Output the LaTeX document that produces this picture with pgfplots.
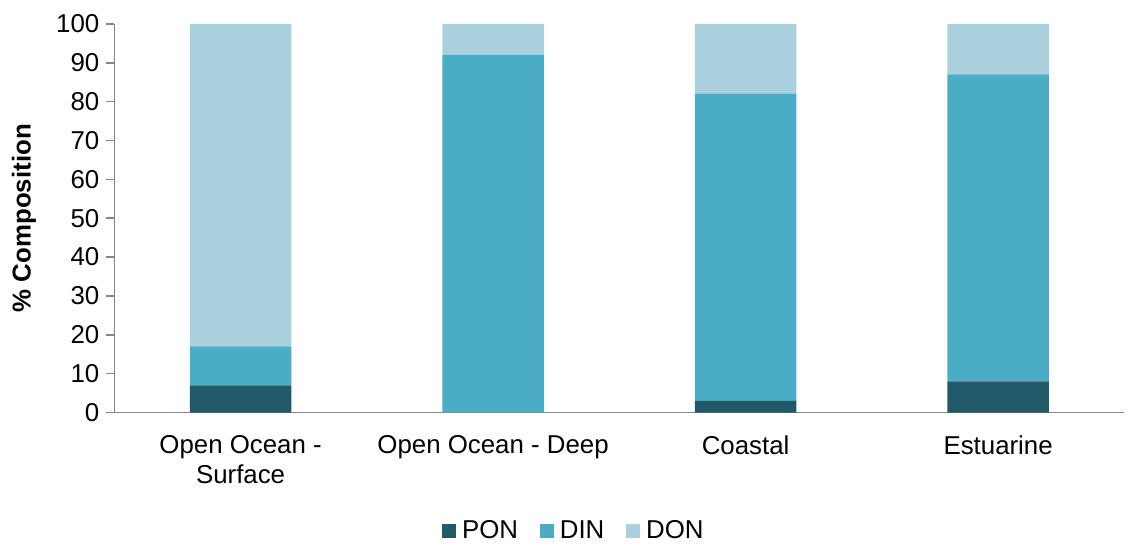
\documentclass[border=0pt]{standalone}
\usepackage{pgfplots}
\pgfplotsset{compat=1.18}
\usepackage{fontspec}
\setmainfont{Liberation Sans}

\definecolor{ponc}{RGB}{34,89,105}
\definecolor{dinc}{RGB}{75,172,198}
\definecolor{donc}{RGB}{170,207,221}
\definecolor{axisgray}{RGB}{134,134,134}

\begin{document}
\begin{tikzpicture}
\begin{axis}[
  scale only axis,
  width=508pt, height=195.5pt,
  ybar stacked,
  bar width=51pt,
  xmin=-0.5, xmax=3.5,
  ymin=0, ymax=100,
  ytick={0,10,...,100},
  xtick={0,1,2,3},
  xticklabels={{Open Ocean -\\Surface},{Open Ocean - Deep},Coastal,Estuarine},
  xticklabel style={align=center, font=\fontsize{13}{15}\selectfont, yshift=-4pt},
  yticklabel style={font=\fontsize{13}{14}\selectfont},
  /pgf/number format/assume math mode=true,
  major x tick style={draw=none},
  extra x ticks={-0.5,0.5,1.5,2.5,3.5},
  extra x tick labels={},
  extra x tick style={major tick length=4pt, tick style={draw=axisgray, line width=0.8pt}},
  axis x line*=bottom,
  axis y line*=left,
  tick align=outside,
  major tick length=4pt,
  tick style={draw=axisgray, line width=0.8pt},
  axis line style={draw=axisgray, line width=0.8pt},
  ylabel={\textbf{\% Composition}},
  ylabel style={font=\fontsize{13}{15}\selectfont,
    at={(axis description cs:-0.0895,0.5)}, anchor=center},
  legend columns=3,
  legend style={at={(0.456,-0.305)}, anchor=center, draw=none, fill=none,
    font=\fontsize{13}{15}\selectfont,
    /tikz/every even column/.append style={column sep=9pt},
    /tikz/every odd column/.append style={column sep=1pt}},
  legend image code/.code={\fill[#1] (0pt,-3.5pt) rectangle (7pt,3.5pt);},
]
\addplot[fill=ponc, draw=none] coordinates {(0,7) (1,0) (2,3) (3,8)};
\addplot[fill=dinc, draw=none] coordinates {(0,10) (1,92) (2,79) (3,79)};
\addplot[fill=donc, draw=none] coordinates {(0,83) (1,8) (2,18) (3,13)};
\legend{PON,DIN,DON}
\path (rel axis cs:0,0) ++(-57.5pt,-64pt) coordinate (bbsw);
\path (rel axis cs:1,1) ++(0pt,12pt) coordinate (bbne);
\end{axis}
\useasboundingbox (bbsw) rectangle (bbne);
\end{tikzpicture}
\end{document}
